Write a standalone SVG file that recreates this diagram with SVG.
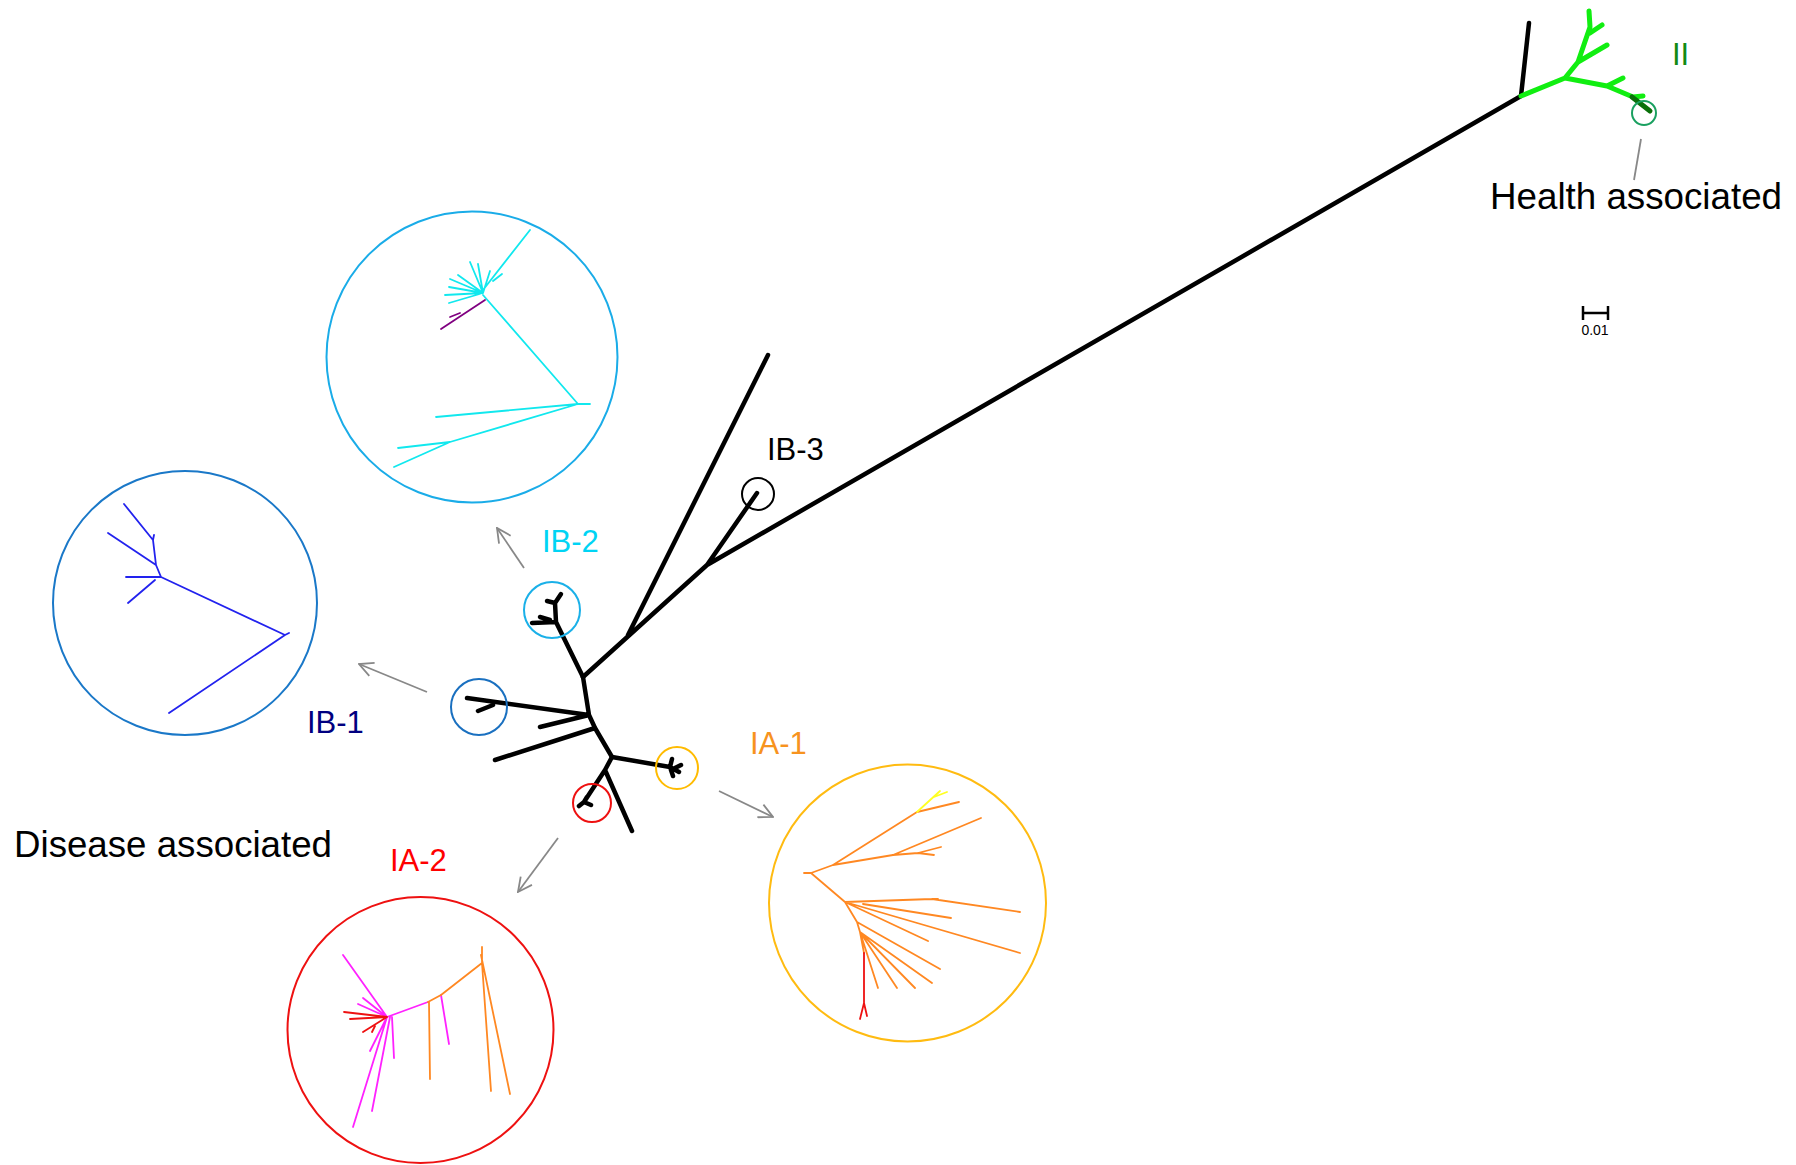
<svg xmlns="http://www.w3.org/2000/svg" width="1796" height="1165" viewBox="0 0 1796 1165">
<defs>
<style>
text{font-family:"Liberation Sans",Arial,sans-serif}
.lbl{font-size:31px}
.big{font-size:36.5px;fill:#000}
.blk{stroke:#000;stroke-width:4.5;fill:none;stroke-linecap:round;stroke-linejoin:round}
.grn{stroke:#11ee11;stroke-width:5;fill:none;stroke-linecap:round;stroke-linejoin:round}
.thin{fill:none;stroke-width:1.8;stroke-linecap:round;stroke-linejoin:round}
.ring{fill:none;stroke-width:2}
.arr{stroke:#888;stroke-width:1.8;fill:none;marker-end:url(#ah)}
</style>
<marker id="ah" viewBox="0 0 16 16" refX="15" refY="8" markerWidth="16" markerHeight="16" markerUnits="userSpaceOnUse" orient="auto">
<path d="M1,1 L15,8 L1,15" fill="none" stroke="#888" stroke-width="1.8"/>
</marker>
</defs>
<rect width="1796" height="1165" fill="#fff"/>

<g id="tree-main">
<path class="blk" d="M583,677 L707,565 L1521,96 M628,635 L768,355 M707,565 L757,493 M1521,96 L1529,23"/>
<path class="blk" d="M583,677 L556,622 L555,603 M555,603 L561,594 M555,603 L547,601 M556,622 L532,623 M550,620 L540,617"/>
<path class="blk" d="M583,677 L589,715 L467,698 M493,705 L478,711 M589,715 L540,727 M589,715 L595,728 L612,757 M595,728 L495,760"/>
<path class="blk" d="M612,757 L670,767 M670,767 L679,772 M670,767 L673,776 M670,767 L672,759 M675,768 L681,765"/>
<path class="blk" d="M612,757 L605,770 L584,802 M584,802 L579,806 M584,802 L591,805 M584,802 L587,797 M605,770 L632,831"/>
</g>

<g id="clade-II">
<path class="grn" d="M1521,96 L1565,78 L1578,62 L1590,27 L1589,11 M1578,62 L1607,45 M1590,33 L1602,25 M1565,78 L1607,86 L1623,78 M1607,86 L1633,97 L1643,96"/>
<path d="M1632,97 L1650,111" stroke="#0a700a" stroke-width="5" stroke-linecap="round"/>
<circle class="ring" cx="1644" cy="113" r="12" stroke="#1aa060"/>
<text class="lbl" x="1672" y="65" fill="#138a13">II</text>
</g>

<g id="health">
<line x1="1641" y1="139" x2="1634" y2="180" stroke="#888" stroke-width="1.8"/>
<text class="big" x="1490" y="209" textLength="292" lengthAdjust="spacingAndGlyphs">Health associated</text>
</g>

<g id="scale-bar">
<path d="M1583,313 L1608,313 M1583,306 L1583,320 M1608,306 L1608,320" stroke="#000" stroke-width="2.5" fill="none"/>
<text x="1595" y="335" font-size="14" text-anchor="middle">0.01</text>
</g>

<g id="IB-3">
<circle class="ring" cx="758" cy="494" r="16" stroke="#000"/>
<text class="lbl" x="767" y="460" fill="#000">IB-3</text>
</g>

<g id="IB-2">
<circle class="ring" cx="552" cy="610" r="28" stroke="#1ab0e8"/>
<text class="lbl" x="542" y="552" fill="#00d4f4">IB-2</text>
<circle class="ring" cx="472" cy="357" r="145.5" stroke="#1aace8"/>
<path class="thin" stroke="#11e8ee" d="M483,293 L470,262 M483,293 L478,264 M483,293 L490,271 M483,293 L458,275 M483,293 L450,279 M483,293 L449,287 M483,293 L445,295 M483,293 L449,303 M483,290 L530,230 M502,274 L493,281 M483,295 L578,404 L590,404 M578,404 L436,417 M578,404 L450,442 L398,448 M450,442 L394,467"/>
<path class="thin" stroke="#800080" d="M485,300 L441,329 M460,313 L450,317"/>
</g>

<g id="IB-1">
<circle class="ring" cx="479" cy="707" r="28" stroke="#1a70c0"/>
<text class="lbl" x="307" y="733" fill="#000080">IB-1</text>
<circle class="ring" cx="185" cy="603" r="132" stroke="#1a78c8"/>
<path class="thin" stroke="#2222ee" d="M161,577 L285,635 L289,633 M285,635 L169,713 M161,577 L156,565 L108,533 M156,565 L153,540 L124,504 M153,540 L154,535 M161,577 L126,577 M155,580 L128,603"/>
</g>

<g id="IA-1">
<circle class="ring" cx="677" cy="768" r="21" stroke="#ffbb00"/>
<text class="lbl" x="750" y="754" fill="#f7931e">IA-1</text>
<circle class="ring" cx="907.5" cy="903" r="138.5" stroke="#ffbb11"/>
<path class="thin" stroke="#ff8822" d="M804,873 L811,873 L833,865 L917,812 L959,802 M833,865 L893,855 L981,818 M893,855 L918,853 L941,847 M918,853 L934,855 M811,873 L845,902 L932,899 L938,899 M932,899 L1020,912 M863,904 L951,918 M845,902 L1020,953 M845,902 L928,941 M845,902 L857,922 L940,969 M857,922 L860,932 L932,983 M860,932 L915,988 M860,932 L897,988 M860,932 L878,988 M860,932 L864,953"/>
<path class="thin" stroke="#ffff22" d="M917,812 L940,791 M934,797 L947,792"/>
<path class="thin" stroke="#ee1111" d="M864,953 L864,1003 L860,1019 M864,1003 L867,1016"/>
</g>

<g id="IA-2">
<circle class="ring" cx="592" cy="803" r="19" stroke="#ee1111"/>
<text class="lbl" x="390" y="871" fill="#ff0000">IA-2</text>
<circle class="ring" cx="420.5" cy="1030" r="133" stroke="#ee1111"/>
<path class="thin" stroke="#ff22ff" d="M387,1017 L343,955 M387,1017 L358,1004 M387,1017 L363,998 M387,1017 L370,1051 M387,1017 L353,1127 M390,1017 L372,1111 M392,1017 L394,1058 M387,1017 L428,1002 M441,995 L449,1044"/>
<path class="thin" stroke="#ee1111" d="M387,1017 L344,1012 M387,1017 L350,1019 M387,1017 L363,1032 M375,1026 L372,1032"/>
<path class="thin" stroke="#ff8822" d="M428,1002 L441,995 L482,963 L482,947 M482,963 L491,1091 M481,955 L510,1094 M429,1002 L430,1079"/>
</g>

<g id="disease">
<text class="big" x="14" y="857" textLength="318" lengthAdjust="spacingAndGlyphs">Disease associated</text>
</g>

<g id="connectors">
<line class="arr" x1="524" y1="568" x2="497" y2="528"/>
<line class="arr" x1="427" y1="692" x2="359" y2="664"/>
<line class="arr" x1="719" y1="791" x2="773" y2="817"/>
<line class="arr" x1="558" y1="838" x2="518" y2="892"/>
</g>
</svg>
